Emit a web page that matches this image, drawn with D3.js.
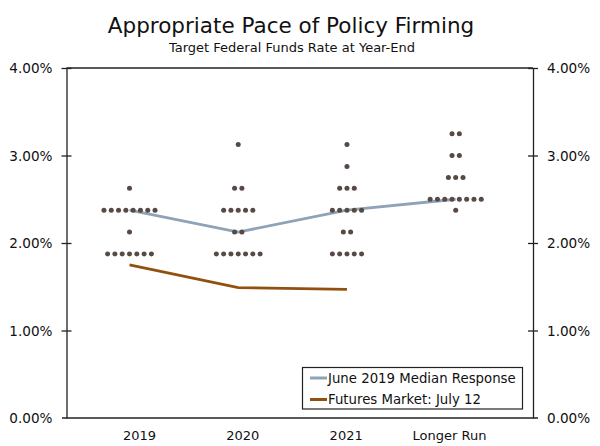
<!DOCTYPE html>
<html>
<head>
<meta charset="utf-8">
<script src="https://cdn.jsdelivr.net/npm/d3@7/dist/d3.min.js"></script>
<style>
  html, body { margin: 0; padding: 0; background: #fff; }
  svg { display: block; }
  text { font-family: "DejaVu Sans", Verdana, sans-serif; fill: #111; }
</style>
</head>
<body>
<svg id="chart" width="600" height="446"></svg>
<script>
// ---- Data ----
const categories = ["2019", "2020", "2021", "Longer Run"];
const proj2019 = [1.875,1.875,1.875,1.875,1.875,1.875,1.875, 2.125,
                  2.375,2.375,2.375,2.375,2.375,2.375,2.375,2.375, 2.625];
const proj2020 = [1.875,1.875,1.875,1.875,1.875,1.875,1.875, 2.125,2.125,
                  2.375,2.375,2.375,2.375,2.375, 2.625,2.625, 3.125];
const proj2021 = [1.875,1.875,1.875,1.875,1.875, 2.125,2.125,
                  2.375,2.375,2.375,2.375,2.375, 2.625,2.625,2.625, 2.875, 3.125];
const projLonger = [2.375, 2.5,2.5,2.5,2.5,2.5,2.5,2.5,2.5,
                    2.75,2.75,2.75, 3.0,3.0, 3.25,3.25];
const projections = [proj2019, proj2020, proj2021, projLonger];
const medianResponse = [2.375, 2.125, 2.375, 2.5];
const futuresMarket = [1.75, 1.49, 1.47];
const yTicks = [0, 1, 2, 3, 4];
const legendLabels = ["June 2019 Median Response", "Futures Market: July 12"];

// ---- Layout ----
const svg = d3.select("#chart");
const pLeft = 66.5, pRight = 533, pTop = 68, pBottom = 418;
const colors = { dot: "#574943", median: "#8ea3b7", futures: "#91500f" };

const y = d3.scaleLinear().domain([0, 4]).range([pBottom, pTop]);
const x = d3.scalePoint().domain(categories).range([129.5, 455.7]);
const xLabel = d3.scalePoint().domain(categories).range([139, 449]);
const dotGap = 7.3;

// Title
svg.append("text").attr("x", 291).attr("y", 33).attr("text-anchor", "middle")
  .style("font-size", "21.5px").text("Appropriate Pace of Policy Firming");
svg.append("text").attr("x", 292).attr("y", 52).attr("text-anchor", "middle")
  .style("font-size", "13px").text("Target Federal Funds Rate at Year-End");

// Frame
const g = svg.append("g");
g.append("line").attr("x1", pLeft).attr("x2", pRight).attr("y1", pTop).attr("y2", pTop)
  .attr("stroke", "#222").attr("stroke-width", 1.3);
g.append("line").attr("x1", 62).attr("x2", 538).attr("y1", pBottom).attr("y2", pBottom)
  .attr("stroke", "#222").attr("stroke-width", 1.3);

// Axes
const fmt = d => d.toFixed(2) + "%";
const yLeft = d3.axisLeft(y).tickValues(yTicks).tickFormat(fmt).tickSizeInner(5).tickSizeOuter(0).tickPadding(9);
const yRight = d3.axisRight(y).tickValues(yTicks).tickFormat(fmt).tickSizeInner(5).tickSizeOuter(0).tickPadding(9);
const axL = svg.append("g").attr("transform", `translate(${pLeft},0)`).call(yLeft);
const axR = svg.append("g").attr("transform", `translate(${pRight},0)`).call(yRight);
[axL, axR].forEach(ax => {
  ax.select(".domain").attr("stroke", "#222").attr("stroke-width", 1.3);
  ax.selectAll(".tick line").attr("stroke", "#222").attr("stroke-width", 1.3);
  ax.selectAll(".tick text").style("font-size", "13.6px").attr("fill", "#111")
    .style("font-family", '"DejaVu Sans", Verdana, sans-serif').attr("dy", "0.35em");
  ax.selectAll(".tick").filter(d => d === 0).select("line").remove();
});
axL.selectAll(".tick line").attr("x1", 5);
axR.selectAll(".tick line").attr("x1", -5);

// X labels
const xAxis = d3.axisBottom(xLabel).tickSize(0).tickPadding(13);
const axB = svg.append("g").attr("transform", `translate(0,${pBottom})`).call(xAxis);
axB.select(".domain").remove();
axB.selectAll(".tick text").style("font-size", "13px").attr("fill", "#111")
  .style("font-family", '"DejaVu Sans", Verdana, sans-serif');

// Lines
const line = d3.line().x((d, i) => x(categories[i])).y(d => y(d));
svg.append("path").datum(futuresMarket).attr("d", line).attr("fill", "none")
  .attr("stroke", colors.futures).attr("stroke-width", 2.6);
svg.append("path").datum(medianResponse).attr("d", line).attr("fill", "none")
  .attr("stroke", colors.median).attr("stroke-width", 2.8);

// Dots
const dots = [];
projections.forEach((vals, ci) => {
  const groups = d3.rollups(vals, v => v.length, d => d);
  groups.forEach(([rate, n]) => {
    for (let j = 0; j < n; j++) {
      dots.push({ cat: categories[ci], rate, off: (j - (n - 1) / 2) * dotGap });
    }
  });
});
svg.append("g").selectAll("circle").data(dots).join("circle")
  .attr("cx", d => x(d.cat) + d.off).attr("cy", d => y(d.rate))
  .attr("r", 2.5).attr("fill", colors.dot);

// Legend
const lg = svg.append("g");
lg.append("rect").attr("x", 302.5).attr("y", 367.5).attr("width", 220).attr("height", 41.5)
  .attr("fill", "#fff").attr("stroke", "#222").attr("stroke-width", 1.2);
const legendColors = [colors.median, colors.futures];
legendLabels.forEach((lab, i) => {
  const yy = 378 + i * 21.5;
  lg.append("line").attr("x1", 310).attr("x2", 327).attr("y1", yy).attr("y2", yy)
    .attr("stroke", legendColors[i]).attr("stroke-width", 3);
  lg.append("text").attr("x", 328).attr("y", yy).attr("dy", "0.36em")
    .style("font-size", "13.3px").text(lab);
});
</script>
</body>
</html>
